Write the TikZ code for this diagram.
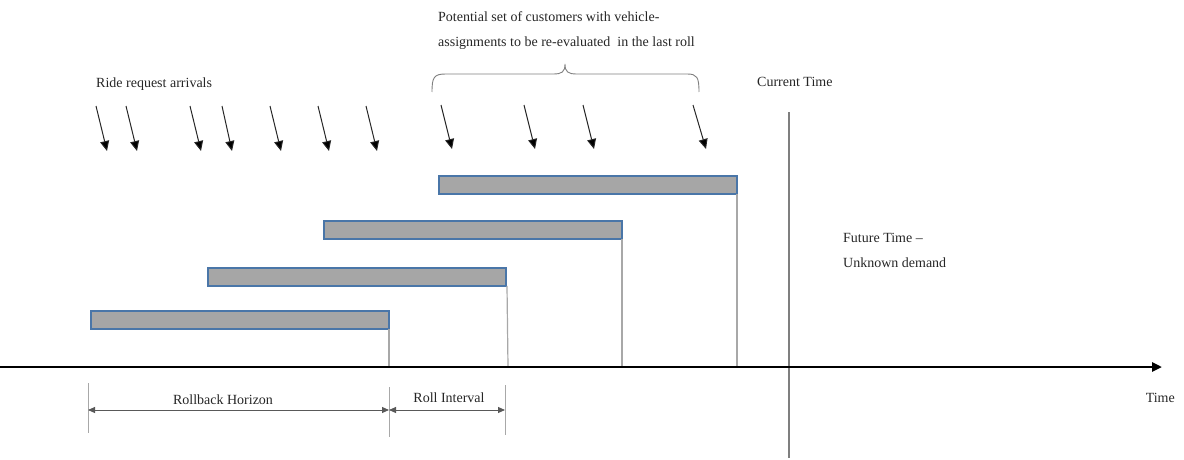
\documentclass[tikz,border=0pt]{standalone}
\usepackage{fontspec}
\setmainfont{Liberation Serif}
\usetikzlibrary{arrows.meta}
\definecolor{barfill}{HTML}{A6A6A6}
\definecolor{barline}{HTML}{4A76A8}
\definecolor{txt}{HTML}{262626}
\definecolor{vgray}{HTML}{A8A8A8}
\definecolor{cgray}{HTML}{7F7F7F}
\definecolor{dimgray}{HTML}{595959}
\tikzset{
  x=1pt, y=-1pt,
  bar/.style={draw=barline, fill=barfill, line width=1.3pt, inner sep=0pt, outer sep=0pt,
    minimum width=298pt, minimum height=18pt, anchor=north west},
  vline/.style={draw=vgray, line width=1.2pt},
  cline/.style={draw=cgray, line width=1.2pt},
  axisline/.style={draw=black, line width=2.8pt, -{Triangle[length=10pt,width=9pt]}},
  req/.style={draw=txt, line width=1pt, -{Triangle[length=10pt,width=9pt,fill=black]}},
  dimline/.style={draw=dimgray, line width=0.9pt, {Triangle[length=7pt,width=6pt]}-{Triangle[length=7pt,width=6pt]}},
  tick/.style={draw=vgray, line width=1pt},
  lbl/.style={font=\fontsize{14}{17}\selectfont, text=txt, inner sep=0pt},
}
\begin{document}
\begin{tikzpicture}
\useasboundingbox (0,0) rectangle (1184,460);
% texts
\node[lbl, anchor=base west] (ride) at (96,88) {Ride request arrivals};
\node[lbl, anchor=base west, align=left] (pot) at (438,47) {Potential set of customers with vehicle-\\[8pt]assignments to be re-evaluated \ in the last roll};
\node[lbl, anchor=base west] (cur) at (757,87) {Current Time};
\node[lbl, anchor=base west, align=left] (fut) at (843,267) {Future Time --\\[8pt]Unknown demand};
\node[lbl, anchor=base east] (time) at (1175,402) {Time};
% bars
\node[bar] (b1) at (439,176) {};
\node[bar] (b2) at (324,221) {};
\node[bar] (b3) at (208,268) {};
\node[bar] (b4) at (91,311) {};
% axis
\coordinate (a0) at (0,367);
\coordinate (a1) at (1162,367);
% vertical lines from bars
\draw[vline] (b1.south east) -- (b1.south east |- a0);
\draw[vline] (b2.south east) -- (b2.south east |- a0);
\draw[vline] ([xshift=1pt]b3.south east) -- ([xshift=2pt]b3.south east |- a0);
\draw[vline] (b4.south east) -- (b4.south east |- a0);
% current time line
\coordinate (ct0) at (789,112);
\coordinate (ct1) at (789,458);
\draw[cline] (ct0) -- (ct1);
\draw[axisline] (a0) -- (a1);
% request arrows
\foreach \i/\sx/\ex in {1/96/107, 2/126/137, 3/190/201, 4/222/232, 5/270/281, 6/318/329, 7/366/377} {
  \coordinate (r\i s) at (\sx,106);
  \coordinate (r\i e) at (\ex,151);
  \draw[req] (r\i s) -- (r\i e);
}
\foreach \i/\sx/\ex in {8/441/452, 9/524/535, 10/583/594, 11/693/706} {
  \coordinate (r\i s) at (\sx,105);
  \coordinate (r\i e) at (\ex,149);
  \draw[req] (r\i s) -- (r\i e);
}
% brace
\draw[draw=cgray, line width=0.9pt] (432,92) .. controls (432,77) and (434,74) .. (446,74) -- (553,74) .. controls (562,74) and (565,72) .. (565,64) .. controls (565,72) and (568,74) .. (577,74) -- (687,74) .. controls (697,74) and (699,77) .. (699,92);
% dimension ticks
\coordinate (t1a) at (88,383); \coordinate (t1b) at (88,433);
\coordinate (t2a) at (389,387); \coordinate (t2b) at (389,437);
\coordinate (t3a) at (505,385); \coordinate (t3b) at (505,435);
\draw[tick] (t1a) -- (t1b);
\draw[tick] (t2a) -- (t2b);
\draw[tick] (t3a) -- (t3b);
\coordinate (d1) at (88,410);
\coordinate (d2) at (389,410);
\coordinate (d3) at (505,410);
\draw[dimline] (d1) -- (d2);
\draw[dimline] (d2) -- (d3);
\node[lbl, anchor=base] (rh) at (223,404) {Rollback Horizon};
\node[lbl, anchor=base] (ri) at (449,402) {Roll Interval};
\end{tikzpicture}
\end{document}
